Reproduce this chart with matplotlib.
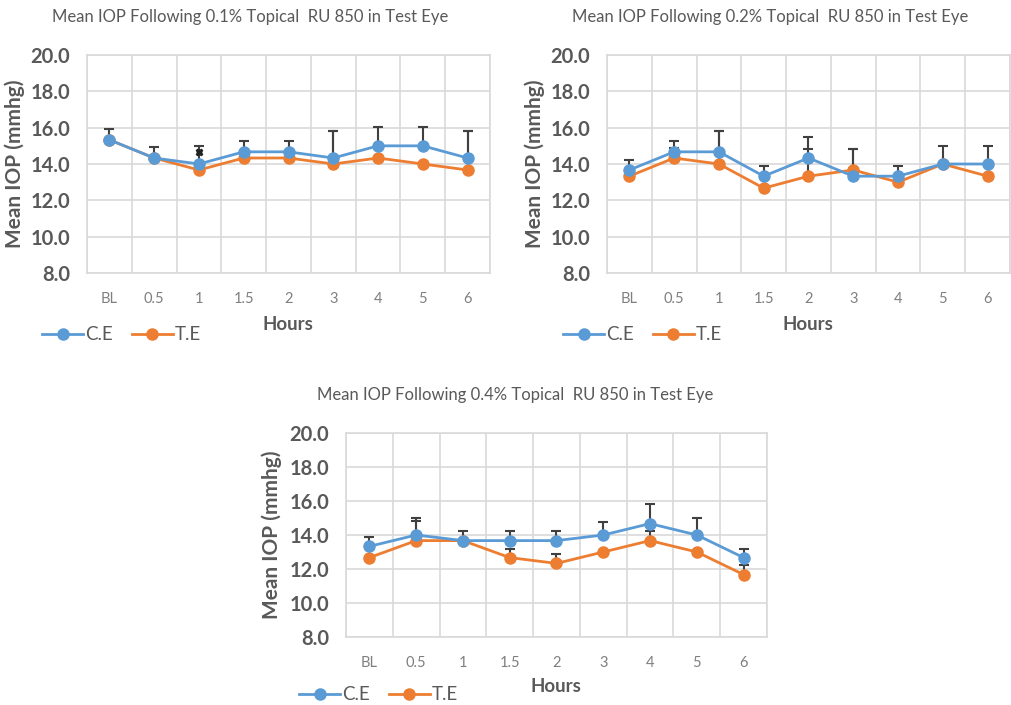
import matplotlib.pyplot as plt
import numpy as np

plt.rcParams['font.family'] = ['Lato', 'DejaVu Sans']

hours = ['BL', '0.5', '1', '1.5', '2', '3', '4', '5', '6']

# 0.1% panel
ce_01 = [15.33, 14.33, 14.0, 14.67, 14.67, 14.33, 15.0, 15.0, 14.33]
te_01 = [15.33, 14.33, 13.67, 14.33, 14.33, 14.0, 14.33, 14.0, 13.67]
ce_err_01 = [0.6, 0.6, 1.0, 0.57, 0.57, 1.5, 1.04, 1.04, 1.5]
te_err_01 = [0, 0, 0, 0, 0, 1.82, 0, 0, 2.15]
odd_pt_01 = (2, 14.67)   # stray black mark at hour 1

# 0.2% panel
ce_02 = [13.67, 14.67, 14.67, 13.33, 14.33, 13.33, 13.33, 14.0, 14.0]
te_02 = [13.33, 14.33, 14.0, 12.67, 13.33, 13.67, 13.0, 14.0, 13.33]
ce_err_02 = [0.56, 0.57, 1.12, 0.57, 1.17, 1.47, 0.57, 1.0, 1.0]
te_err_02 = [0, 0.54, 1.8, 0, 1.47, 1.13, 0, 0, 0]

# 0.4% panel
ce_04 = [13.33, 14.0, 13.67, 13.67, 13.67, 14.0, 14.67, 14.0, 12.67]
te_04 = [12.67, 13.67, 13.67, 12.67, 12.33, 13.0, 13.67, 13.0, 11.67]
ce_err_04 = [0.57, 1.0, 0.56, 0.56, 0.56, 0.74, 1.13, 1.0, 0.53]
te_err_04 = [0, 1.13, 0, 0.53, 0.57, 0, 0.56, 0, 0.59]

BLUE = '#5B9BD5'
ORANGE = '#ED7D31'
GRID = '#D9D9D9'
TXT = '#595959'

W, H = 1012, 705
fig = plt.figure(figsize=(W / 100, H / 100), dpi=100)


def make_ax(left, top, right, bottom):
    return fig.add_axes([left / W, 1 - bottom / H, (right - left) / W, (bottom - top) / H])


def draw(ax, ce, te, ce_err, te_err, title, title_xy, ylab_x, hours_xy, leg_xy):
    x = np.arange(len(hours))
    ax.errorbar(x, ce, yerr=[np.zeros(len(x)), ce_err], fmt='none', ecolor='#404040',
                elinewidth=1.5, capsize=3.5, capthick=1.5, zorder=2)
    ax.errorbar(x, te, yerr=[np.zeros(len(x)), te_err], fmt='none', ecolor='#404040',
                elinewidth=1.5, capsize=3.5, capthick=1.5, zorder=2)
    ax.plot(x, te, color=ORANGE, lw=2, marker='o', ms=8, label='T.E', zorder=3)
    ax.plot(x, ce, color=BLUE, lw=2, marker='o', ms=8, label='C.E', zorder=4)

    ax.set_xlim(-0.5, len(hours) - 0.5)
    ax.set_ylim(8, 20)
    ax.set_yticks(np.arange(8, 21, 2))
    ax.set_yticklabels(['%.1f' % v for v in np.arange(8, 21, 2)], fontweight='bold',
                       fontsize=14.5, color=TXT)
    ax.set_xticks(x)
    ax.set_xticklabels(hours, fontsize=10.5, color='#7F7F7F')
    ax.set_xticks(np.arange(-0.5, len(hours)), minor=True)
    ax.tick_params(axis='both', which='both', length=0)
    ax.tick_params(axis='y', pad=12)
    ax.tick_params(axis='x', pad=14)
    ax.grid(True, axis='y', which='major', color=GRID, lw=1.2)
    ax.grid(True, axis='x', which='minor', color=GRID, lw=1.2)
    ax.set_axisbelow(True)
    for s in ax.spines.values():
        s.set_color(GRID)
        s.set_linewidth(1.2)

    pos = ax.get_position()
    fig.text(title_xy[0] / W, 1 - title_xy[1] / H, title, ha='center', va='center',
             fontsize=12, color=TXT)
    fig.text(ylab_x / W, (pos.y0 + pos.y1) / 2, 'Mean IOP (mmhg)',
             rotation=90, ha='center', va='center', fontsize=15, fontweight='bold', color=TXT)
    fig.text(hours_xy[0] / W, 1 - hours_xy[1] / H, 'Hours', ha='center', va='center',
             fontsize=13.5, fontweight='bold', color=TXT)
    h, l = ax.get_legend_handles_labels()
    leg = ax.legend(h[::-1], l[::-1], ncol=2, loc='center left',
                    bbox_to_anchor=(leg_xy[0] / W, 1 - leg_xy[1] / H),
                    bbox_transform=fig.transFigure, frameon=False, fontsize=13.5,
                    handlelength=2.2, handletextpad=0.1, columnspacing=1.0,
                    borderaxespad=0, borderpad=0)
    for t in leg.get_texts():
        t.set_color(TXT)


ax1 = make_ax(87, 55, 490, 273)
draw(ax1, ce_01, te_01, ce_err_01, te_err_01,
     'Mean IOP Following 0.1% Topical  RU 850 in Test Eye',
     (250, 17), 15, (288, 325), (42, 335))
ax1.plot(odd_pt_01[0], odd_pt_01[1], marker='X', color='#222222', ms=5, zorder=5)

ax2 = make_ax(607, 55, 1010, 273)
draw(ax2, ce_02, te_02, ce_err_02, te_err_02,
     'Mean IOP Following 0.2% Topical  RU 850 in Test Eye',
     (770, 17), 535, (808, 325), (563, 335))

ax3 = make_ax(346, 433, 767, 637)
draw(ax3, ce_04, te_04, ce_err_04, te_err_04,
     'Mean IOP Following 0.4% Topical  RU 850 in Test Eye',
     (515, 395), 272, (556, 686), (299, 695))

fig.savefig('out.png', dpi=100)
